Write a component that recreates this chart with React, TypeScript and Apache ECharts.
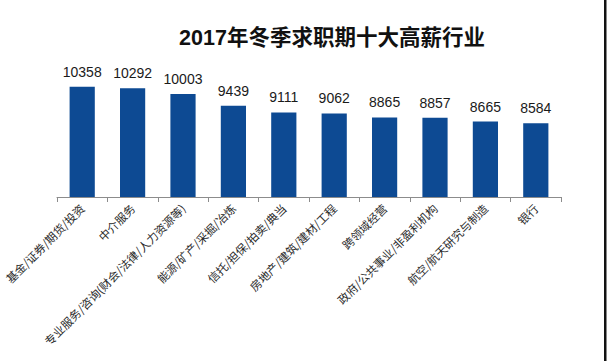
import React, { useEffect, useRef } from "react";
import * as echarts from "echarts";

const categories = [
  "基金/证券/期货/投资",
  "中介服务",
  "专业服务/咨询(财会/法律/人力资源等)",
  "能源/矿产/采掘/冶炼",
  "信托/担保/拍卖/典当",
  "房地产/建筑/建材/工程",
  "跨领域经营",
  "政府/公共事业/非盈利机构",
  "航空/航天研究与制造",
  "银行",
];
const salaries = [10358, 10292, 10003, 9439, 9111, 9062, 8865, 8857, 8665, 8584];
const titleText = "2017年冬季求职期十大高薪行业";

export default function App() {
  const ref = useRef<HTMLDivElement>(null);
  useEffect(() => {
    if (!ref.current) return;
    const chart = echarts.init(ref.current, null, { renderer: "svg" });
    chart.setOption({
      animation: false,
      backgroundColor: "#ffffff",
      title: {
        text: titleText,
        left: 327,
        textAlign: "center",
        top: 22,
        textStyle: {
          fontSize: 21.5,
          fontWeight: "bold",
          color: "#111111",
          fontFamily: "Liberation Sans, Noto Sans CJK SC",
        },
      },
      grid: {
        left: 57,
        right: 47,
        top: 53,
        bottom: 164,
        containLabel: false,
        outerBoundsMode: "none",
      },
      xAxis: {
        type: "category",
        data: categories,
        boundaryGap: true,
        axisLine: { show: true, lineStyle: { color: "#8c8c8c", width: 1 } },
        axisTick: { show: true, length: 5, lineStyle: { color: "#8c8c8c" } },
        axisLabel: {
          rotate: 45,
          interval: 0,
          margin: 9,
          fontSize: 11.5,
          color: "#2a2a2a",
          fontFamily: "Noto Sans CJK SC",
        },
      },
      yAxis: {
        type: "value",
        min: 5000,
        max: 12000,
        show: false,
        splitLine: { show: false },
      },
      series: [
        {
          type: "bar",
          data: salaries,
          barWidth: "50%",
          itemStyle: { color: "#0d4a93" },
          label: {
            show: true,
            position: "top",
            distance: 8,
            fontSize: 14,
            color: "#1a1a1a",
            fontFamily: "Liberation Sans, Noto Sans",
          },
        },
      ],
      graphic: [
        {
          type: "rect",
          shape: { x: 604, y: 0, width: 2.5, height: 361 },
          style: { fill: "#111111" },
        },
      ],
    });
    return () => chart.dispose();
  }, []);
  return <div ref={ref} style={{ width: 608, height: 361, position: "fixed", left: 0, top: 0 }} />;
}
